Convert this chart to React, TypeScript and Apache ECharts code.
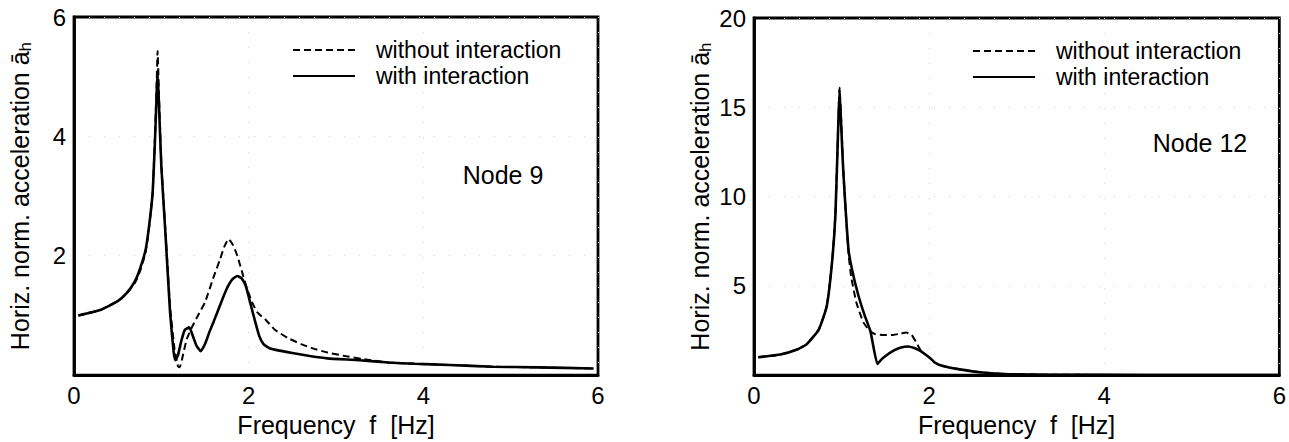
import React, { useEffect, useRef } from "react";
import * as echarts from "echarts";

// ---- Node 9 (left panel) ----
const LEFT_WITH_F = [0.05, 0.3, 0.5, 0.6, 0.7, 0.76, 0.82, 0.86, 0.9, 0.925, 0.945, 0.957, 0.975, 1.0, 1.05, 1.1, 1.14, 1.16, 1.19, 1.23, 1.27, 1.32, 1.36, 1.4, 1.45, 1.5, 1.55, 1.6, 1.68, 1.75, 1.81, 1.87, 1.92, 1.97, 2.02, 2.07, 2.12, 2.17, 2.24, 2.35, 2.5, 2.7, 2.9, 3.27, 3.6, 3.9, 4.3, 4.8, 5.3, 5.95];
const LEFT_WITH_V = [1.0, 1.09, 1.24, 1.37, 1.58, 1.8, 2.1, 2.5, 3.05, 3.85, 4.65, 5.1, 4.45, 3.5, 2.3, 1.05, 0.4, 0.25, 0.33, 0.58, 0.76, 0.8, 0.66, 0.5, 0.4, 0.52, 0.72, 0.9, 1.2, 1.45, 1.6, 1.66, 1.62, 1.48, 1.2, 0.92, 0.66, 0.52, 0.45, 0.41, 0.37, 0.32, 0.28, 0.25, 0.21, 0.19, 0.17, 0.14, 0.13, 0.11];

const LEFT_WITHOUT_F = [0.05, 0.3, 0.5, 0.6, 0.7, 0.76, 0.82, 0.86, 0.9, 0.925, 0.945, 0.957, 0.975, 1.0, 1.05, 1.1, 1.15, 1.19, 1.21, 1.25, 1.29, 1.35, 1.42, 1.5, 1.6, 1.67, 1.72, 1.77, 1.82, 1.87, 1.93, 1.98, 2.04, 2.1, 2.2, 2.3, 2.45, 2.6, 2.75, 2.9, 3.1, 3.3, 3.6, 3.9, 4.3, 4.8, 5.3, 5.95];
const LEFT_WITHOUT_V = [1.0, 1.09, 1.24, 1.36, 1.55, 1.76, 2.06, 2.47, 3.05, 3.9, 4.8, 5.43, 4.6, 3.55, 2.35, 1.15, 0.45, 0.15, 0.13, 0.35, 0.6, 0.8, 1.0, 1.22, 1.65, 1.93, 2.15, 2.28, 2.18, 2.0, 1.7, 1.45, 1.22, 1.05, 0.92, 0.76, 0.62, 0.52, 0.44, 0.38, 0.32, 0.27, 0.21, 0.19, 0.17, 0.14, 0.13, 0.11];

// ---- Node 12 (right panel) ----
const RIGHT_WITH_F = [0.05, 0.3, 0.5, 0.6, 0.74, 0.83, 0.89, 0.93, 0.96, 0.977, 1.0, 1.02, 1.05, 1.08, 1.12, 1.19, 1.26, 1.33, 1.41, 1.45, 1.51, 1.6, 1.67, 1.76, 1.83, 1.89, 1.95, 2.01, 2.06, 2.12, 2.23, 2.35, 2.58, 2.92, 3.4, 4.0, 5.0, 6.0];
const RIGHT_WITH_V = [1.0, 1.15, 1.45, 1.72, 2.55, 3.84, 6.24, 9.0, 13.6, 16.0, 13.5, 11.4, 9.0, 7.0, 5.9, 4.5, 3.4, 2.45, 0.62, 0.85, 1.1, 1.38, 1.53, 1.6, 1.52, 1.38, 1.18, 0.96, 0.72, 0.57, 0.43, 0.32, 0.16, 0.05, 0.02, 0.01, 0.005, 0.003];

const RIGHT_WITHOUT_F = [0.05, 0.3, 0.5, 0.6, 0.74, 0.83, 0.89, 0.93, 0.96, 0.977, 1.0, 1.02, 1.05, 1.08, 1.11, 1.17, 1.25, 1.32, 1.38, 1.5, 1.59, 1.68, 1.74, 1.8, 1.85, 1.91, 1.95, 2.01, 2.06, 2.12, 2.23, 2.35, 2.58, 2.92, 3.4, 4.0, 5.0, 6.0];
const RIGHT_WITHOUT_V = [1.0, 1.15, 1.45, 1.72, 2.55, 3.84, 6.24, 9.0, 13.7, 16.1, 13.8, 11.5, 9.0, 6.8, 5.5, 4.05, 2.95, 2.49, 2.3, 2.24, 2.25, 2.33, 2.38, 2.25, 1.85, 1.33, 1.18, 0.96, 0.72, 0.57, 0.43, 0.32, 0.16, 0.05, 0.02, 0.01, 0.005, 0.003];

const X_TICKS = [0, 2, 4, 6];
const LEFT_Y_MAX = 6;
const LEFT_Y_STEP = 2;
const RIGHT_Y_MAX = 20;
const RIGHT_Y_STEP = 5;

const NAME_WITHOUT = "without interaction";
const NAME_WITH = "with interaction";
const PANEL_LABELS = ["Node 9", "Node 12"];

const FONT = "'Liberation Sans', Arial, Helvetica, sans-serif";

const zip = (f: number[], v: number[]) => f.map((x, i) => [x, v[i]]);

export default function App() {
  const ref = useRef<HTMLDivElement>(null);

  useEffect(() => {
    if (!ref.current) return;
    const chart = echarts.init(ref.current, undefined, { renderer: "svg" });

    const gridStyle = {
      show: true,
      borderColor: "#000",
      borderWidth: 2.8,
      containLabel: false,
    };
    const split = {
      show: true,
      lineStyle: { color: "#cfcfcf", type: [1, 14], width: 1 },
    };
    const xAxisBase = (gridIndex: number) => ({
      gridIndex,
      type: "value",
      min: X_TICKS[0],
      max: X_TICKS[X_TICKS.length - 1],
      interval: X_TICKS[1] - X_TICKS[0],
      name: "Frequency  f  [Hz]",
      nameLocation: "middle",
      nameGap: 31,
      nameTextStyle: { fontSize: 25, color: "#000", fontFamily: FONT },
      axisLine: { show: true, onZero: false, lineStyle: { color: "#000", width: 2.8 } },
      axisTick: { show: false },
      axisLabel: { fontSize: 24, color: "#000", margin: 8, fontFamily: FONT },
      splitLine: split,
    });
    const yAxisBase = (gridIndex: number, max: number, step: number) => ({
      gridIndex,
      type: "value",
      min: 0,
      max,
      interval: step,
      name: "Horiz. norm. acceleration {m|ā}{s|h}",
      nameLocation: "middle",
      nameGap: 40,
      nameRotate: 90,
      nameTextStyle: {
        fontSize: 25,
        color: "#000",
        fontFamily: FONT,
        rich: {
          m: { fontSize: 25, color: "#000", fontFamily: FONT },
          s: { fontSize: 17, color: "#000", fontFamily: FONT, padding: [12, 0, 0, 0] },
        },
      },
      axisLine: { show: true, onZero: false, lineStyle: { color: "#000", width: 2.8 } },
      axisTick: { show: false },
      axisLabel: {
        fontSize: 24,
        color: "#000",
        margin: 8,
        fontFamily: FONT,
        formatter: (v: number) => (v === 0 ? "" : String(v)),
      },
      splitLine: split,
    });

    const dashed = { color: "#000", width: 2, type: [7, 4] };
    const solid = { color: "#000", width: 2.6, type: "solid" };
    const lineSeries = (name: string, idx: number, data: number[][], ls: any) => ({
      name,
      type: "line",
      xAxisIndex: idx,
      yAxisIndex: idx,
      data,
      showSymbol: false,
      symbol: "none",
      symbolSize: 0,
      smooth: 0.15,
      lineStyle: ls,
      itemStyle: { color: "#000" },
      z: name === NAME_WITH ? 3 : 2,
    });
    const legendBase = (left: number, top: number) => ({
      orient: "vertical",
      left,
      top,
      itemWidth: 62,
      itemHeight: 14,
      itemGap: 0,
      selectedMode: false,
      itemStyle: { opacity: 0, borderWidth: 0 },
      data: [NAME_WITHOUT, NAME_WITH],
      textStyle: {
        fontSize: 23,
        lineHeight: 26,
        color: "#000",
        fontFamily: FONT,
        padding: [0, 0, 0, 16],
      },
    });

    chart.setOption({
      animation: false,
      backgroundColor: "#fff",
      textStyle: { fontFamily: FONT, color: "#000" },
      grid: [
        { left: 74, top: 17, width: 524, height: 360, ...gridStyle },
        { left: 754, top: 18, width: 526, height: 362, ...gridStyle },
      ],
      xAxis: [xAxisBase(0), xAxisBase(1)],
      yAxis: [yAxisBase(0, LEFT_Y_MAX, LEFT_Y_STEP), yAxisBase(1, RIGHT_Y_MAX, RIGHT_Y_STEP)],
      legend: [legendBase(287, 32), legendBase(967, 33)],
      series: [
        lineSeries(NAME_WITHOUT, 0, zip(LEFT_WITHOUT_F, LEFT_WITHOUT_V), dashed),
        lineSeries(NAME_WITH, 0, zip(LEFT_WITH_F, LEFT_WITH_V), solid),
        lineSeries(NAME_WITHOUT, 1, zip(RIGHT_WITHOUT_F, RIGHT_WITHOUT_V), dashed),
        lineSeries(NAME_WITH, 1, zip(RIGHT_WITH_F, RIGHT_WITH_V), solid),
      ],
      graphic: [
        {
          type: "text",
          x: 503,
          y: 175,
          style: {
            text: PANEL_LABELS[0],
            fontSize: 25,
            fontFamily: FONT,
            fill: "#000",
            align: "center",
            verticalAlign: "middle",
          },
        },
        {
          type: "text",
          x: 1200,
          y: 143,
          style: {
            text: PANEL_LABELS[1],
            fontSize: 25,
            fontFamily: FONT,
            fill: "#000",
            align: "center",
            verticalAlign: "middle",
          },
        },
      ],
    });

    return () => chart.dispose();
  }, []);

  return (
    <div
      ref={ref}
      style={{ position: "fixed", left: 0, top: 0, width: 1289, height: 442, background: "#fff" }}
    />
  );
}
